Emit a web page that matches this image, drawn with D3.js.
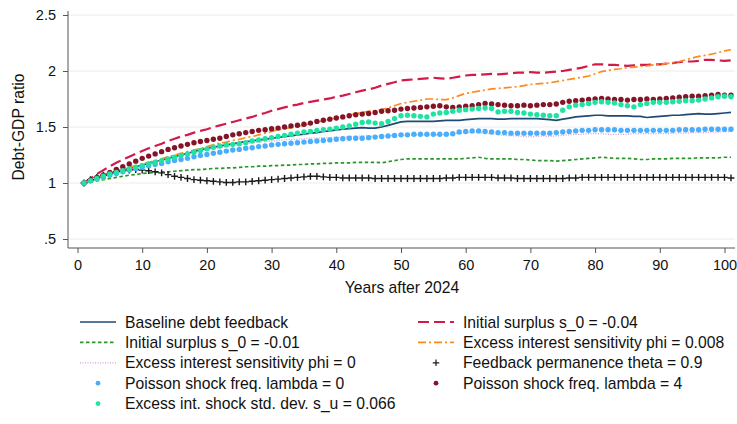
<!DOCTYPE html>
<html>
<head>
<meta charset="utf-8">
<script src="https://cdn.jsdelivr.net/npm/d3@7"></script>
<style>
  body { margin: 0; background: #fff; }
  svg text { font-family: "Liberation Sans", Arial, Helvetica, sans-serif; fill: #111; }
</style>
</head>
<body>
<div id="chart"></div>
<script>
// years after 2024
var years = d3.range(1, 102)

// Debt-GDP ratio paths
var baseline = [
  1.00,1.02,1.04,1.06,1.08,1.10,1.115,1.13,1.145,1.16,
  1.175,1.19,1.205,1.22,1.235,1.25,1.265,1.28,1.295,1.31,
  1.32,1.33,1.34,1.35,1.36,1.37,1.375,1.385,1.39,1.40,
  1.405,1.415,1.42,1.43,1.435,1.445,1.45,1.46,1.465,1.475,
  1.48,1.485,1.49,1.495,1.49,1.49,1.50,1.515,1.53,1.545,
  1.55,1.55,1.55,1.55,1.55,1.555,1.56,1.56,1.56,1.565,
  1.57,1.575,1.575,1.575,1.57,1.57,1.575,1.575,1.575,1.575,
  1.575,1.57,1.565,1.56,1.57,1.58,1.59,1.595,1.60,1.605,
  1.605,1.60,1.60,1.60,1.60,1.595,1.595,1.585,1.59,1.595,
  1.60,1.605,1.605,1.61,1.615,1.62,1.615,1.615,1.62,1.625,1.63]
var surplus004 = [
  1.00,1.04,1.08,1.115,1.15,1.18,1.21,1.235,1.26,1.285,
  1.31,1.33,1.35,1.375,1.395,1.415,1.43,1.45,1.465,1.48,
  1.50,1.515,1.53,1.545,1.56,1.575,1.59,1.61,1.625,1.645,
  1.66,1.675,1.69,1.70,1.715,1.725,1.735,1.745,1.755,1.77,
  1.78,1.795,1.81,1.825,1.835,1.85,1.87,1.885,1.90,1.915,
  1.92,1.925,1.93,1.935,1.94,1.935,1.93,1.94,1.95,1.96,
  1.965,1.965,1.97,1.975,1.97,1.975,1.98,1.985,1.985,1.99,
  1.985,1.985,1.99,1.995,2.00,2.01,2.02,2.03,2.045,2.06,
  2.06,2.055,2.055,2.05,2.045,2.05,2.055,2.055,2.06,2.06,
  2.065,2.07,2.08,2.085,2.085,2.09,2.10,2.10,2.095,2.09,2.095]
var surplus001 = [
  1.00,1.01,1.02,1.03,1.04,1.05,1.06,1.07,1.075,1.085,
  1.09,1.095,1.10,1.10,1.105,1.11,1.115,1.12,1.12,1.125,
  1.13,1.13,1.135,1.135,1.14,1.145,1.145,1.15,1.15,1.155,
  1.155,1.16,1.16,1.165,1.165,1.17,1.17,1.175,1.175,1.18,
  1.18,1.18,1.185,1.185,1.185,1.185,1.18,1.19,1.20,1.21,
  1.215,1.215,1.215,1.215,1.215,1.215,1.215,1.215,1.215,1.22,
  1.225,1.23,1.22,1.215,1.215,1.215,1.215,1.21,1.21,1.205,
  1.20,1.20,1.20,1.195,1.20,1.205,1.21,1.215,1.22,1.225,
  1.23,1.225,1.22,1.22,1.22,1.215,1.21,1.21,1.215,1.215,
  1.215,1.22,1.22,1.22,1.22,1.225,1.225,1.225,1.225,1.23,1.23]
var phi0008 = [
  1.00,1.025,1.05,1.07,1.09,1.11,1.125,1.14,1.155,1.17,
  1.185,1.20,1.215,1.235,1.25,1.265,1.28,1.295,1.31,1.325,
  1.34,1.355,1.365,1.38,1.39,1.405,1.415,1.43,1.445,1.46,
  1.475,1.485,1.495,1.505,1.515,1.53,1.545,1.555,1.57,1.58,
  1.595,1.605,1.62,1.63,1.64,1.645,1.655,1.67,1.69,1.71,
  1.72,1.73,1.74,1.75,1.75,1.745,1.745,1.76,1.78,1.80,
  1.81,1.82,1.83,1.84,1.845,1.85,1.855,1.86,1.87,1.88,
  1.885,1.89,1.895,1.905,1.915,1.925,1.935,1.945,1.955,1.975,
  1.995,2.005,2.015,2.02,2.03,2.035,2.04,2.045,2.055,2.06,
  2.065,2.075,2.085,2.10,2.115,2.13,2.14,2.15,2.165,2.18,2.19]
var phi0 = [
  1.00,1.02,1.04,1.06,1.08,1.095,1.11,1.125,1.14,1.155,
  1.17,1.185,1.20,1.215,1.23,1.245,1.26,1.27,1.285,1.295,
  1.305,1.315,1.325,1.335,1.345,1.35,1.36,1.365,1.37,1.375,
  1.38,1.385,1.39,1.39,1.395,1.40,1.40,1.405,1.405,1.41,
  1.41,1.415,1.415,1.42,1.42,1.415,1.42,1.42,1.425,1.425,
  1.43,1.43,1.43,1.43,1.43,1.43,1.435,1.44,1.445,1.45,
  1.45,1.45,1.445,1.44,1.43,1.425,1.42,1.42,1.415,1.415,
  1.415,1.42,1.415,1.42,1.425,1.43,1.435,1.435,1.44,1.44,
  1.44,1.435,1.435,1.435,1.435,1.44,1.44,1.44,1.44,1.44,
  1.44,1.445,1.445,1.445,1.45,1.45,1.45,1.455,1.455,1.46,1.46]
var theta09 = [
  1.00,1.03,1.05,1.07,1.085,1.10,1.11,1.115,1.12,1.115,
  1.11,1.10,1.09,1.075,1.06,1.05,1.04,1.03,1.025,1.02,
  1.015,1.01,1.005,1.005,1.01,1.01,1.015,1.02,1.025,1.03,
  1.035,1.04,1.045,1.05,1.055,1.06,1.06,1.055,1.05,1.05,
  1.045,1.045,1.045,1.045,1.045,1.04,1.04,1.04,1.04,1.04,
  1.04,1.04,1.04,1.04,1.04,1.04,1.045,1.045,1.05,1.05,
  1.05,1.05,1.05,1.05,1.045,1.045,1.045,1.04,1.04,1.04,
  1.04,1.04,1.04,1.04,1.04,1.045,1.045,1.05,1.05,1.05,
  1.05,1.05,1.05,1.05,1.05,1.05,1.05,1.05,1.05,1.05,
  1.05,1.05,1.05,1.05,1.05,1.05,1.05,1.05,1.05,1.05,1.045]
var lambda0 = [
  1.00,1.02,1.035,1.05,1.07,1.085,1.10,1.115,1.13,1.14,
  1.155,1.165,1.175,1.19,1.20,1.21,1.22,1.235,1.245,1.255,
  1.265,1.275,1.285,1.295,1.30,1.31,1.315,1.325,1.33,1.34,
  1.345,1.35,1.355,1.36,1.365,1.37,1.375,1.38,1.385,1.39,
  1.395,1.40,1.40,1.40,1.405,1.41,1.415,1.42,1.425,1.43,
  1.43,1.435,1.435,1.435,1.435,1.435,1.435,1.44,1.455,1.46,
  1.465,1.465,1.46,1.455,1.45,1.45,1.445,1.445,1.445,1.445,
  1.445,1.445,1.445,1.45,1.455,1.46,1.465,1.47,1.47,1.475,
  1.475,1.475,1.475,1.47,1.47,1.47,1.47,1.47,1.47,1.47,
  1.47,1.47,1.475,1.475,1.475,1.475,1.48,1.48,1.48,1.48,1.48]
var lambda4 = [
  1.00,1.025,1.05,1.07,1.095,1.12,1.145,1.17,1.195,1.22,
  1.24,1.26,1.28,1.30,1.315,1.33,1.345,1.36,1.37,1.38,
  1.39,1.40,1.415,1.43,1.44,1.45,1.46,1.47,1.475,1.485,
  1.49,1.50,1.51,1.515,1.525,1.535,1.55,1.56,1.57,1.58,
  1.59,1.60,1.61,1.615,1.62,1.63,1.64,1.645,1.65,1.66,
  1.665,1.67,1.675,1.68,1.685,1.69,1.68,1.675,1.68,1.685,
  1.69,1.70,1.71,1.705,1.70,1.695,1.69,1.69,1.695,1.69,
  1.695,1.70,1.70,1.705,1.72,1.73,1.735,1.74,1.745,1.75,
  1.755,1.75,1.745,1.745,1.74,1.745,1.745,1.75,1.745,1.75,
  1.755,1.76,1.765,1.77,1.775,1.775,1.78,1.785,1.79,1.785,1.785]
var shockSu = [
  1.00,1.02,1.04,1.06,1.08,1.095,1.11,1.125,1.14,1.155,
  1.17,1.185,1.20,1.215,1.23,1.245,1.26,1.275,1.29,1.305,
  1.32,1.33,1.34,1.345,1.35,1.36,1.375,1.385,1.395,1.405,
  1.415,1.425,1.435,1.445,1.455,1.46,1.47,1.475,1.48,1.49,
  1.50,1.51,1.525,1.54,1.545,1.535,1.53,1.55,1.575,1.60,
  1.605,1.60,1.595,1.59,1.615,1.625,1.63,1.64,1.65,1.655,
  1.66,1.665,1.67,1.665,1.635,1.64,1.64,1.63,1.625,1.615,
  1.61,1.605,1.60,1.60,1.65,1.68,1.695,1.70,1.71,1.72,
  1.725,1.72,1.715,1.70,1.69,1.68,1.70,1.71,1.72,1.72,
  1.72,1.725,1.73,1.735,1.735,1.74,1.75,1.76,1.77,1.775,1.77]

var legendLabels = [
  "Baseline debt feedback",
  "Initial surplus s_0 = -0.04",
  "Initial surplus s_0 = -0.01",
  "Excess interest sensitivity phi = 0.008",
  "Excess interest sensitivity phi = 0",
  "Feedback permanence theta = 0.9",
  "Poisson shock freq. lambda = 0",
  "Poisson shock freq. lambda = 4",
  "Excess int. shock std. dev. s_u = 0.066"
]
var xTicks = [0, 10, 20, 30, 40, 50, 60, 70, 80, 90, 100]
var yTicks = [0.5, 1, 1.5, 2, 2.5]

// drawing styles, same order as the legend
var styles = [
  {values: baseline,   kind: "line", color: "#1f4a75", width: 1.7, dash: null},
  {values: surplus004, kind: "line", color: "#d21a4b", width: 2.2, dash: "11,5"},
  {values: surplus001, kind: "line", color: "#2a952a", width: 1.7, dash: "3.5,2.5"},
  {values: phi0008,    kind: "line", color: "#ff8a1c", width: 1.7, dash: "8,3,2,3"},
  {values: phi0,       kind: "line", color: "#d79ddb", width: 1.3, dash: "1,1.5"},
  {values: theta09,    kind: "plus", color: "#1a1a1a"},
  {values: lambda0,    kind: "dot",  color: "#4aaefc"},
  {values: lambda4,    kind: "dot",  color: "#851428"},
  {values: shockSu,    kind: "dot",  color: "#1fe3a3"}
]

var W = 737, H = 424
var svg = d3.select("#chart").append("svg")
    .attr("width", W)
    .attr("height", H)

var x = d3.scaleLinear().domain([0, 100]).range([77.5, 724.5])
var y = d3.scaleLinear().domain([0.5, 2.5]).range([239, 15])
var axisLeftX = 68, axisBottomY = 248, plotRight = 735, plotTop = 11

// grid lines
svg.append("g").selectAll("line")
    .data(yTicks).enter().append("line")
    .attr("x1", axisLeftX + 1).attr("x2", plotRight)
    .attr("y1", d => y(d)).attr("y2", d => y(d))
    .attr("stroke", "#ececec").attr("stroke-width", 1)

// series
var line = d3.line().x((d, i) => x(years[i])).y(d => y(d))
var plot = svg.append("g")
styles.forEach(function(s){
  if (s.kind == "line") {
    plot.append("path")
        .attr("d", line(s.values))
        .attr("fill", "none")
        .attr("stroke", s.color)
        .attr("stroke-width", s.width)
        .attr("stroke-dasharray", s.dash)
  } else if (s.kind == "dot") {
    plot.append("g").selectAll("circle")
        .data(s.values).enter().append("circle")
        .attr("cx", (d, i) => x(years[i]))
        .attr("cy", d => y(d))
        .attr("r", 2.7)
        .attr("fill", s.color)
  } else {
    plot.append("g").selectAll("path")
        .data(s.values).enter().append("path")
        .attr("d", (d, i) => "M" + (x(years[i]) - 3.4) + "," + y(d) + "h6.8M" + x(years[i]) + "," + (y(d) - 3.4) + "v6.8")
        .attr("stroke", s.color)
        .attr("stroke-width", 1.4)
  }
})

// axes
var yAxis = svg.append("g")
    .attr("transform", "translate(" + axisLeftX + ",0)")
    .call(d3.axisLeft(y).tickValues(yTicks).tickSize(5).tickPadding(7)
      .tickFormat(d => String(d).replace(/^0/, "")))
var xAxis = svg.append("g")
    .attr("transform", "translate(0," + axisBottomY + ")")
    .call(d3.axisBottom(x).tickValues(xTicks).tickSize(5).tickPadding(7))
yAxis.select(".domain").remove()
xAxis.select(".domain").remove()
svg.selectAll(".tick line").attr("stroke", "#555")
svg.selectAll(".tick text").attr("font-size", 14.5).attr("fill", "#111")
  .style("font-family", "'Liberation Sans', Arial, sans-serif")

svg.append("line")
    .attr("x1", axisLeftX).attr("x2", axisLeftX)
    .attr("y1", plotTop).attr("y2", axisBottomY)
    .attr("stroke", "#555")
svg.append("line")
    .attr("x1", axisLeftX).attr("x2", plotRight)
    .attr("y1", axisBottomY).attr("y2", axisBottomY)
    .attr("stroke", "#555")

svg.append("text")
    .attr("x", 402).attr("y", 292.5)
    .attr("text-anchor", "middle")
    .attr("font-size", 15.7)
    .text("Years after 2024")
svg.append("text")
    .attr("transform", "translate(24,127) rotate(-90)")
    .attr("text-anchor", "middle")
    .attr("font-size", 15.7)
    .text("Debt-GDP ratio")

// legend, two columns, filled row by row
var legend = svg.append("g")
styles.forEach(function(s, i){
  var col = i % 2, row = Math.floor(i / 2)
  var x0 = col == 0 ? 80 : 418
  var yy = 322 + row * 20.4
  var g = legend.append("g").attr("transform", "translate(" + x0 + "," + yy + ")")
  if (s.kind == "line") {
    g.append("line").attr("x1", 0).attr("x2", 36).attr("y1", 0).attr("y2", 0)
        .attr("stroke", s.color).attr("stroke-width", s.width)
        .attr("stroke-dasharray", s.dash)
  } else if (s.kind == "dot") {
    g.append("circle").attr("cx", 18).attr("cy", 0).attr("r", 2.4).attr("fill", s.color)
  } else {
    g.append("path").attr("d", "M14.8,0h6.4M18,-3.2v6.4")
        .attr("stroke", s.color).attr("stroke-width", 1.2)
  }
  g.append("text")
      .attr("x", 45).attr("y", 0).attr("dy", "0.35em")
      .attr("font-size", 15.7)
      .text(legendLabels[i])
})
</script>
</body>
</html>
